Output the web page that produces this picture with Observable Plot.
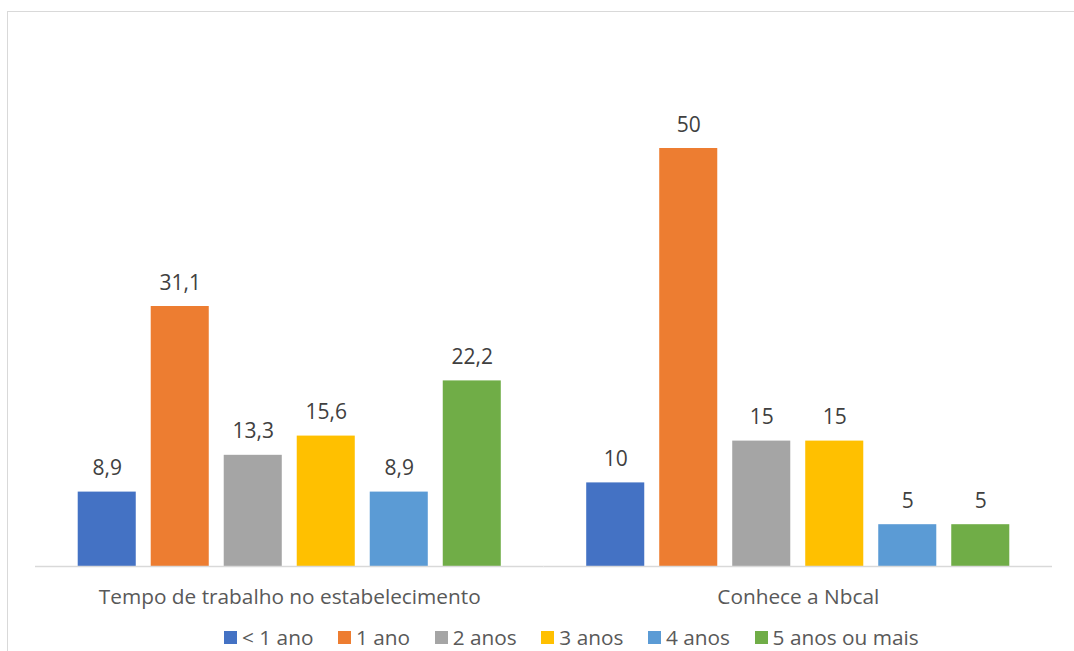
<!DOCTYPE html>
<html>
<head>
<meta charset="utf-8">
<script src="https://cdn.jsdelivr.net/npm/d3@7"></script>
<script src="https://cdn.jsdelivr.net/npm/@observablehq/plot@0.6"></script>
<style>
  html, body { margin: 0; padding: 0; background: #fff; overflow: hidden; }
  #wrap { position: relative; width: 1074px; height: 651px; font-family: "Open Sans", sans-serif; }
  #frame { position: absolute; left: 7px; top: 11px; width: 1200px; height: 800px; border-left: 1px solid #d9d9d9; border-top: 1px solid #d9d9d9; box-sizing: border-box; }
  #chart { position: absolute; left: 0; top: 0; }
  #legend { position: absolute; left: 224px; top: 624px; display: flex; align-items: center; font-size: 20.8px; color: #595959; white-space: nowrap; line-height: 27px; }
  .item { display: flex; align-items: center; margin-right: 24.6px; }
  .sw { width: 13px; height: 13px; margin-right: 5px; }
</style>
</head>
<body>
<div id="wrap">
  <div id="frame"></div>
  <div id="chart"></div>
  <div id="legend"></div>
</div>
<script>
const groups = ["Tempo de trabalho no estabelecimento", "Conhece a Nbcal"];
const series = ["< 1 ano", "1 ano", "2 anos", "3 anos", "4 anos", "5 anos ou mais"];
const valuesTempo = [8.9, 31.1, 13.3, 15.6, 8.9, 22.2];
const valuesNbcal = [10, 50, 15, 15, 5, 5];
const colors = ["#4472C4", "#ED7D31", "#A5A5A5", "#FFC000", "#5B9BD5", "#70AD47"];

const data = [];
[valuesTempo, valuesNbcal].forEach((vals, gi) => {
  vals.forEach((v, si) => data.push({group: groups[gi], series: series[si], value: v}));
});

const fmt = v => String(v).replace(".", ",");
const font = "'Open Sans', sans-serif";

const plot = Plot.plot({
  width: 1074,
  height: 620,
  marginLeft: 35,
  marginRight: 22,
  marginTop: 64.4,
  marginBottom: 54,
  style: {fontFamily: font, fontSize: "21px", color: "#595959", background: "transparent"},
  fx: {domain: groups, padding: 0, round: false, label: null},
  x: {domain: series, paddingInner: 0.205, paddingOuter: 0.585, round: false, axis: null},
  y: {domain: [0, 60], axis: null},
  color: {domain: series, range: colors},
  marks: [
    Plot.axisFx({anchor: "bottom", tickSize: 0, tickPadding: 23, label: null, fontSize: 20.8, fill: "#595959"}),
    Plot.barY(data, {fx: "group", x: "series", y: "value", fill: "series"}),
    Plot.ruleY([0], {stroke: "#d9d9d9", strokeWidth: 1.3}),
    Plot.text(data, {fx: "group", x: "series", y: "value", text: d => fmt(d.value), lineAnchor: "bottom", dy: -17, fontSize: 21, fill: "#404040"})
  ]
});
document.getElementById("chart").appendChild(plot);

const legend = document.getElementById("legend");
series.forEach((s, i) => {
  const item = document.createElement("div");
  item.className = "item";
  const sw = document.createElement("div");
  sw.className = "sw";
  sw.style.background = colors[i];
  const t = document.createElement("span");
  t.textContent = s;
  item.appendChild(sw);
  item.appendChild(t);
  legend.appendChild(item);
});
</script>
</body>
</html>
